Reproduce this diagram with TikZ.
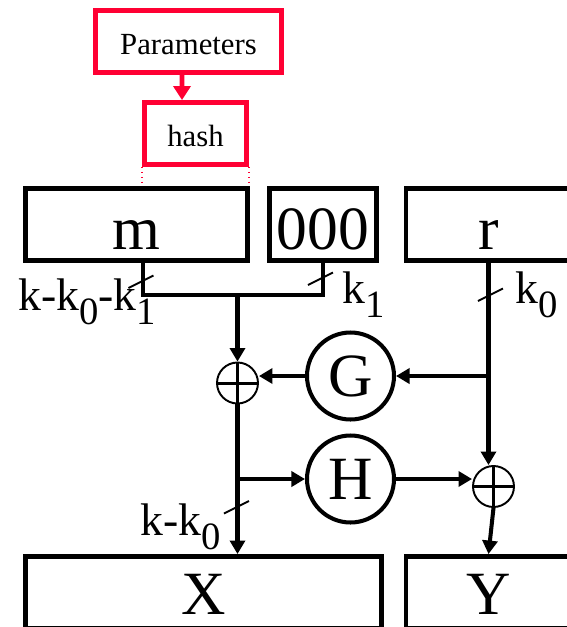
\documentclass[tikz,border=0pt]{standalone}
\usepackage{fontspec}
\setmainfont{Liberation Serif}
\usetikzlibrary{shapes,arrows.meta,positioning}
\definecolor{hashred}{RGB}{255,0,51}
\newcommand{\lowsub}[1]{\raisebox{-0.32em}{\fontsize{22}{22}\selectfont #1}}

\tikzset{
  box/.style={draw, line width=2.8pt, minimum height=1.44cm, text height=0.98cm, text depth=0pt, inner sep=0pt, font=\fontsize{35}{35}\selectfont},
  bigtext/.style={inner sep=0pt, anchor=base, font=\fontsize{35}{35}\selectfont},
  redbox/.style={draw=hashred, line width=2.8pt, minimum height=1.24cm, text height=0.5cm, text depth=0pt, inner sep=0pt, font=\fontsize{17.5}{18}\selectfont},
  func/.style={draw, circle, line width=2.3pt, minimum size=1.74cm, inner sep=0pt, font=\fontsize{35}{35}\selectfont},
  xorop/.style={draw, circle, line width=1.1pt, minimum size=0.82cm, inner sep=0pt},
  wire/.style={line width=2.3pt},
  arr/.style={wire, -{Triangle[length=0.27cm, width=0.3cm]}},
  slash/.style={line width=1.1pt},
  bits/.style={font=\fontsize{26}{26}\selectfont, inner sep=0pt, anchor=base west}
}

\begin{document}
\begin{tikzpicture}[x=0.02cm, y=-0.02cm]
\useasboundingbox (0,0) rectangle (567,627);
\clip (0,0) rectangle (567,627);
% Parameters and hash
\node[redbox, minimum width=3.72cm] (params) at (188.5,41.5) {Parameters};
\node[redbox, minimum width=2.04cm] (hash) at (195.5,133.5) {hash};
\draw[line width=2.8pt, hashred, -{Triangle[length=0.28cm, width=0.34cm]}] ([xshift=-0.13cm]params.south) -- ([xshift=-0.27cm]hash.north);

% Input blocks
\node[box, minimum width=4.44cm] (msg) at (136.5,224.5) {m};
\node[box, minimum width=2.14cm] (pad) at (323,224.5) {000};
\node[box, minimum width=3.3cm] (rnd) at (488.5,224.5) {r};
\draw[hashred, line width=0.8pt, dotted] (hash.south west) -- (hash.south west |- msg.north) (hash.south east) -- (hash.south east |- msg.north);

% OAEP rounds
\node[xorop] (xorG) at (237.5,383) {};
\node[func] (G) at (350.5,376) {G};
\node[func] (H) at (350.5,479) {H};
\node[xorop] (xorH) at (493.5,486.5) {};
\foreach \n in {xorG, xorH}
  \draw[line width=1.7pt] (\n.north) -- (\n.south) (\n.west) -- (\n.east);

% Output blocks (cut by the lower edge)
\node[box, minimum width=7.12cm] (X) at (203.5,592.5) {};
\node[box, minimum width=3.3cm] (Y) at (488.5,592.5) {};
\node[bigtext] (xlbl) at (203.5,614) {X};
\node[bigtext] (ylbl) at (488.5,614) {Y};

% Wires
\coordinate (join) at (237.5,295);
\draw[wire] ([xshift=0.13cm]msg.south) |- (join) -| (pad.south);
\draw[arr] (join) -- (xorG.north);
\draw[arr] (rnd.south) -- (rnd.south |- xorH.north);
\draw[arr] (G.east -| rnd.south) -- (G.east);
\draw[arr] (G.west) -- (G.west -| xorG.east);
\draw[arr] (xorG.south) -- (xorG.south |- X.north);
\draw[arr] (H.west -| xorG.south) -- (H.west);
\draw[arr] (H.east) -- (H.east -| xorH.west);
\draw[arr] (xorH.south) -- (Y.north);

% Bit widths
\foreach \p in {(141,282), (320.5,279), (490.5,295), (236.5,507.5)}
  \draw[slash] \p ++(-12.5,6) -- ++(25,-12.5);
\node[bits] (lblm) at (18,310) {k-k\lowsub{0}-k\lowsub{1}};
\node[bits] (lblpad) at (342,303) {k\lowsub{1}};
\node[bits] (lblr) at (515,303) {k\lowsub{0}};
\node[bits] (lblx) at (140,535) {k-k\lowsub{0}};
\end{tikzpicture}
\end{document}
